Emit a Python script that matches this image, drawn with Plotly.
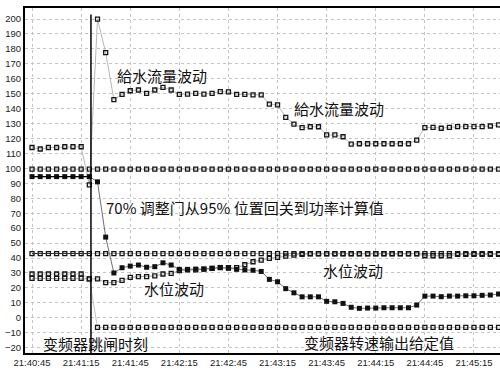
import pandas as pd
import plotly.graph_objects as go

# ---- data (sampled every 5 s starting 21:40:45) ----
start = pd.Timestamp("2000-01-01 21:40:45")
n_samples = 58
times = [start + pd.Timedelta(seconds=5 * i) for i in range(n_samples)]

# 给水流量 (open squares)
feed_flow = [114, 113, 114, 114, 114.5, 114.5, 114.5, 89, 200, 177.5,
             146, 149.6, 152, 152.5, 150.3, 152.5, 154.3, 152.5, 149.6, 149.8,
             150.3, 149.8, 150.3, 151.4, 151.2, 149.6, 149.6, 149.2, 149.2, 143.1,
             142.5, 134.2, 129.7, 127.3, 127.9, 127.9, 122.4, 122.4, 121.2, 116.3,
             116.5, 116.5, 116.5, 116.5, 116.5, 116.5, 116.5, 119, 127.3, 127.5,
             126.9, 127.5, 128, 128, 128, 128, 128.4, 129.1]

# 调整门位置 (filled squares)
damper = [94.5] * 8 + [91, 54, 30, 33.5, 34.6, 35.3, 33.8, 34.2, 36.8,
                       35.3, 32.4, 32.4, 32.6, 32.6, 33.1, 33.7, 33.1, 32.4, 32,
                       31.8, 31, 25.7, 24.1, 19.5, 16.7, 14, 14, 14, 11,
                       10.7, 9.6, 7, 6.3, 6.5, 6.5, 6.7, 6.7, 6.7, 6.7,
                       8.5, 14.5, 14.5, 14.1, 14.5, 14.5, 14.7, 14.7, 15, 15.2,
                       15.9]

# 水位 (open squares)
water_level = [26.4] * 7 + [26, 26, 23.5, 23.5, 25, 27, 27.5, 27.5, 28, 29.3,
                            29.7, 31.5, 32, 32, 32.5, 33, 33.5, 33.5, 33.5, 35.5,
                            37.5, 38.6, 39.8, 40.4, 41.3, 42, 42.5] \
    + [42.8] * 14 + [41.5] * 4 + [42.5] * 6

# 变频器转速输出给定值 (open squares)
vfd_setpoint = [29.3] * 7 + [26] + [-6.5] * 50

# constant reference rows (open squares)
ref_100 = [99.5] * n_samples
ref_43 = [43] * n_samples

trip_time = start + pd.Timedelta(seconds=36)

y_ticks = list(range(-20, 201, 10))

fig = go.Figure()

open_marker = dict(symbol="square-open", size=4, color="#151515", line=dict(width=1.3))
filled_marker = dict(symbol="square", size=5, color="#111111", line=dict(width=0))

for series, lc in [(ref_100, "#b0b0b0"), (ref_43, "#b0b0b0"), (feed_flow, "#b8b8b8"),
                   (water_level, "#a8a8a8"), (vfd_setpoint, "#c4c4c4")]:
    fig.add_trace(go.Scatter(x=times, y=series, mode="lines+markers",
                             line=dict(color=lc, width=1), marker=open_marker,
                             hoverinfo="skip"))

fig.add_trace(go.Scatter(x=times, y=damper, mode="lines+markers",
                         line=dict(color="#707070", width=1), marker=filled_marker,
                         hoverinfo="skip"))

# trip moment line and pre-trip reference lines
fig.add_shape(type="line", x0=trip_time, x1=trip_time, y0=-23.6, y1=203,
              line=dict(color="black", width=1.5))
fig.add_shape(type="line", x0=times[0], x1=trip_time, y0=damper[0], y1=damper[0],
              line=dict(color="black", width=1.3))
fig.add_shape(type="line", x0=times[0], x1=trip_time, y0=ref_43[0], y1=ref_43[0],
              line=dict(color="#333333", width=1))

cjk = dict(family="Noto Sans CJK SC", size=15, color="#111111")
labels = [
    ("給水流量波动", 51.4, 162.5),
    ("給水流量波动", 159.3, 140.4),
    ("70% 调整门从95% 位置回关到功率计算值", 44.6, 74.1),
    ("水位波动", 67.8, 19.9),
    ("水位波动", 177.2, 31.9),
    ("变频器跳闸时刻", 6.0, -17.1),
    ("变频器转速输出给定值", 165.6, -16.9),
]
for txt, sec, val in labels:
    fig.add_annotation(x=start + pd.Timedelta(seconds=sec), y=val, text=txt,
                       showarrow=False, xanchor="left", yanchor="middle",
                       font=cjk, borderpad=0)

tick_font = dict(family="Liberation Sans, Arial", size=9.5, color="#222222")

fig.update_xaxes(type="date",
                 range=[start - pd.Timedelta(seconds=4.3), start + pd.Timedelta(seconds=285.9)],
                 tick0=start, dtick=30000, tickformat="%H:%M:%S",
                 showgrid=True, gridcolor="#c4c4c4", griddash="dot", gridwidth=1,
                 showline=True, linecolor="black", linewidth=2, mirror=True,
                 ticks="", tickfont=tick_font, zeroline=False)
fig.update_yaxes(range=[-23.6, 207.4], tickvals=y_ticks,
                 showgrid=True, gridcolor="#c4c4c4", griddash="dot", gridwidth=1,
                 showline=True, linecolor="black", linewidth=2,
                 ticks="", tickfont=tick_font, zeroline=False)

fig.update_layout(width=500, height=373, margin=dict(l=25, r=0, t=8, b=20),
                  plot_bgcolor="white", paper_bgcolor="white", showlegend=False)

fig.write_html("out.html", config={"displayModeBar": False},
               post_script="document.body.style.margin='0';")
